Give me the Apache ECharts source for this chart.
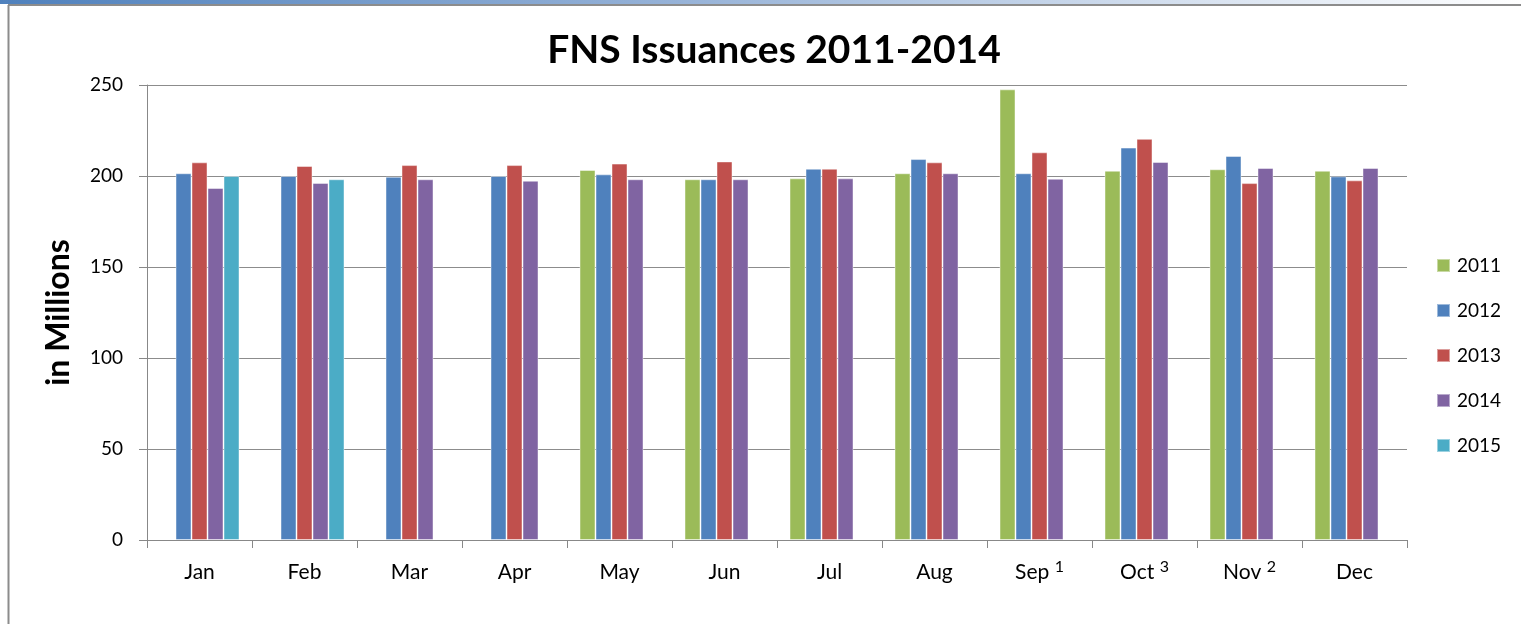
<!DOCTYPE html>
<html>
<head>
<meta charset="utf-8">
<title>FNS Issuances 2011-2014</title>
<script src="https://cdn.jsdelivr.net/npm/echarts@6/dist/echarts.min.js"></script>
<style>
  html, body { margin: 0; padding: 0; background: #fff; }
  #chart { width: 1521px; height: 624px; }
</style>
</head>
<body>
<div id="chart"></div>
<script>
// month labels, footnote markers shown as superscripts
var months = ['Jan', 'Feb', 'Mar', 'Apr', 'May', 'Jun', 'Jul', 'Aug', 'Sep', 'Oct', 'Nov', 'Dec'];
var footnotes = ['', '', '', '', '', '', '', '', '1', '3', '2', ''];

var years = ['2011', '2012', '2013', '2014', '2015'];
var colors = ['#9BBB59', '#4F81BD', '#C0504D', '#8064A2', '#4BACC6'];

// in millions
var y2011 = [null, null, null, null, 203.3, 198.2, 198.7, 201.5, 247.6, 202.9, 203.7, 202.9];
var y2012 = [201.5, 200.0, 199.6, 200.0, 200.9, 198.2, 204.0, 209.3, 201.5, 215.6, 211.0, 199.8];
var y2013 = [207.5, 205.5, 206.0, 206.0, 206.8, 208.0, 204.0, 207.5, 213.0, 220.4, 196.1, 197.6];
var y2014 = [193.4, 196.2, 198.2, 197.4, 198.2, 198.2, 198.7, 201.5, 198.5, 207.7, 204.4, 204.4];
var y2015 = [200.0, 198.2, null, null, null, null, null, null, null, null, null, null];

var yTicks = { min: 0, max: 250, interval: 50 };

var seriesData = [y2011, y2012, y2013, y2014, y2015];
var font = 'Lato, "Open Sans", sans-serif';

var chart = echarts.init(document.getElementById('chart'));

chart.setOption({
  animation: false,
  backgroundColor: '#fff',
  color: colors,
  title: {
    text: 'FNS Issuances 2011-2014',
    left: 769,
    top: 26,
    textAlign: 'center',
    textStyle: { fontFamily: font, fontWeight: 'bold', fontSize: 39, color: '#000' }
  },
  legend: {
    orient: 'vertical',
    left: 1431,
    top: 251,
    itemWidth: 13,
    itemHeight: 13,
    itemGap: 26,
    icon: 'rect',
    textStyle: { fontFamily: font, fontSize: 19, color: '#000', padding: [0, 0, 0, 2] },
    data: years
  },
  grid: { left: 147, right: 114, top: 85, bottom: 84, containLabel: false },
  xAxis: {
    type: 'category',
    data: months,
    axisLine: { lineStyle: { color: '#888', width: 1 } },
    axisTick: { show: true, length: 8, interval: 0, lineStyle: { color: '#888' } },
    axisLabel: {
      interval: 0,
      hideOverlap: false,
      margin: 19,
      color: '#000',
      formatter: function (v, i) {
        return footnotes[i] ? '{m|' + v + ' }{s|' + footnotes[i] + '}' : '{m|' + v + '}';
      },
      rich: {
        m: { fontFamily: font, fontSize: 21, lineHeight: 26, color: '#000' },
        s: { fontFamily: font, fontSize: 16, lineHeight: 16, verticalAlign: 'top', color: '#000' }
      }
    }
  },
  yAxis: {
    type: 'value',
    min: yTicks.min,
    max: yTicks.max,
    interval: yTicks.interval,
    name: 'in Millions',
    nameLocation: 'middle',
    nameGap: 72,
    nameTextStyle: { fontFamily: font, fontWeight: 'bold', fontSize: 32, color: '#000' },
    axisLine: { show: true, lineStyle: { color: '#888', width: 1 } },
    axisTick: { show: true, length: 8, lineStyle: { color: '#888' } },
    axisLabel: { margin: 24, fontFamily: font, fontSize: 19, color: '#000' },
    splitLine: { lineStyle: { color: '#8c8c8c', width: 1 } }
  },
  series: seriesData.map(function (d, i) {
    return {
      name: years[i],
      type: 'bar',
      data: d,
      barWidth: 16,
      barGap: '0%',
      itemStyle: { borderColor: 'rgba(255,255,255,0.45)', borderWidth: 1 }
    };
  }),
  graphic: [
    {
      type: 'rect',
      shape: { x: 0, y: 0, width: 1521, height: 4 },
      style: {
        fill: new echarts.graphic.LinearGradient(0, 0, 1, 0, [
          { offset: 0, color: '#4F81BD' },
          { offset: 0.45, color: '#97b3d8' },
          { offset: 1, color: '#ffffff' }
        ])
      },
      silent: true
    },
    {
      type: 'line',
      shape: { x1: 8, y1: 5, x2: 1521, y2: 5 },
      style: { stroke: '#8c8c8c', lineWidth: 2 },
      silent: true
    },
    {
      type: 'line',
      shape: { x1: 8.5, y1: 5, x2: 8.5, y2: 624 },
      style: { stroke: '#8c8c8c', lineWidth: 2 },
      silent: true
    }
  ]
});
</script>
</body>
</html>
